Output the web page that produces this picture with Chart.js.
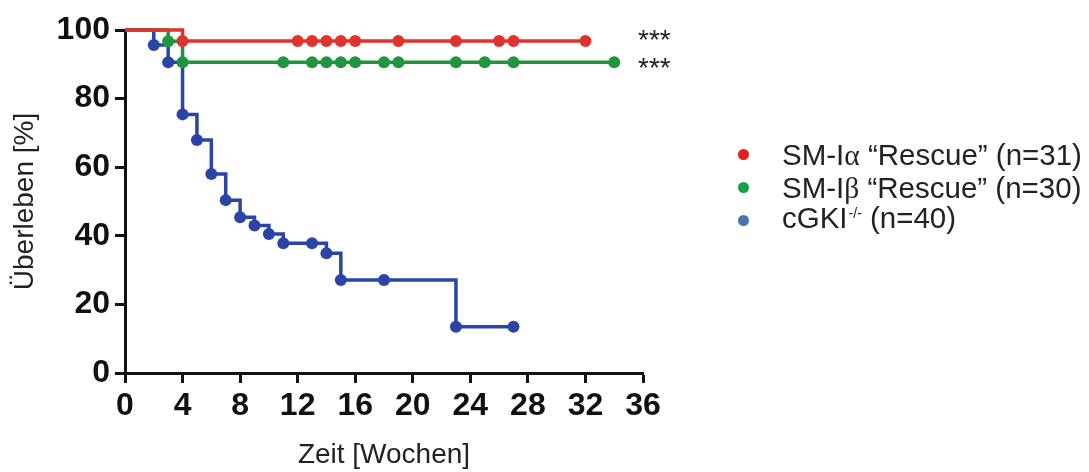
<!DOCTYPE html>
<html><head><meta charset="utf-8">
<script src="https://cdn.jsdelivr.net/npm/chart.js@4"></script>
<style>
html,body{margin:0;padding:0;background:#fff;}
#wrap{position:relative;width:1089px;height:472px;overflow:hidden;}
#c{position:absolute;left:0;top:0;}
#legend{position:absolute;left:736px;top:138px;font-family:"Liberation Sans",Arial,sans-serif;font-size:29.5px;color:#222;}
.row{height:33px;line-height:33px;display:flex;align-items:center;white-space:nowrap;}
.dot{width:11px;height:11px;border-radius:50%;margin-left:2px;margin-right:33px;flex:none;}
.gr{font-family:"Liberation Serif","DejaVu Serif",serif;}
.sup{font-size:14px;position:relative;top:-10px;margin-left:1px;margin-right:0px;}
</style></head>
<body>
<div id="wrap"><canvas id="c" width="1089" height="472"></canvas><div id="legend"></div></div>
<script>
// ---- data ----
const seriesNames = ['SM-Iα “Rescue” (n=31)', 'SM-Iβ “Rescue” (n=30)', 'cGKI-/- (n=40)'];
const redWeeks = [0, 4, 12, 13, 14, 15, 16, 19, 23, 26, 27, 32];
const redSurvival = [100, 96.8, 96.8, 96.8, 96.8, 96.8, 96.8, 96.8, 96.8, 96.8, 96.8, 96.8];
const greenWeeks = [0, 3, 4, 11, 13, 14, 15, 16, 18, 19, 23, 25, 27, 34];
const greenSurvival = [100, 96.7, 90.6, 90.6, 90.6, 90.6, 90.6, 90.6, 90.6, 90.6, 90.6, 90.6, 90.6, 90.6];
const blueWeeks = [0, 2, 3, 4, 5, 6, 7, 8, 9, 10, 11, 13, 14, 15, 18, 23, 27];
const blueSurvival = [100, 95.6, 90.6, 75.4, 67.9, 58.0, 50.4, 45.4, 43.0, 40.5, 37.8, 37.8, 34.9, 27.1, 27.1, 13.5, 13.5];
const xTickValues = [0, 4, 8, 12, 16, 20, 24, 28, 32, 36];
const yTickValues = [0, 20, 40, 60, 80, 100];
const significance = ['***', '***'];

const lineColors = ['#e2322e', '#1f963e', '#2a45a6'];
const legendColors = ['#e01f1f', '#16a046', '#4a72a8'];

function pts(xs, ys){ return xs.map((x,i)=>({x:x, y:ys[i]})); }
function radii(n){ return Array.from({length:n}, (_,i)=> i===0 ? 0 : 6); }

const sets = [[redWeeks, redSurvival], [greenWeeks, greenSurvival], [blueWeeks, blueSurvival]];
const datasets = sets.map((s,i)=>({
  label: seriesNames[i],
  data: pts(s[0], s[1]),
  stepped: true,
  borderColor: lineColors[i],
  backgroundColor: lineColors[i],
  pointBackgroundColor: lineColors[i],
  pointBorderWidth: 0,
  pointRadius: radii(s[0].length),
  borderWidth: 3.5,
  fill: false,
  clip: false
}));

// legend (HTML, built from the series names)
const leg = document.getElementById('legend');
seriesNames.forEach((n,i)=>{
  let html = n.replace(/([αβ])/g, '<span class="gr">$1</span>').replace('-/-', '<span class="sup">-/-</span>');
  const row = document.createElement('div');
  row.className = 'row';
  row.innerHTML = '<span class="dot" style="background:'+legendColors[i]+'"></span><span>'+html+'</span>';
  leg.appendChild(row);
});

const starPlugin = {
  id: 'stars',
  afterDatasetsDraw(chart){
    const ctx = chart.ctx, xs = chart.scales.x, ys = chart.scales.y;
    const levels = [redSurvival[redSurvival.length-1], greenSurvival[greenSurvival.length-1]];
    ctx.save();
    ctx.font = '28px "Liberation Sans", Arial, sans-serif';
    ctx.fillStyle = '#222';
    ctx.textAlign = 'left';
    ctx.textBaseline = 'alphabetic';
    levels.forEach((lv,i)=>{
      ctx.fillText(significance[i], xs.getPixelForValue(36) - 5, ys.getPixelForValue(lv) + (i===0 ? 8 : 15));
    });
    ctx.restore();
  }
};

const tickFont = {family: '"Liberation Sans", Arial, sans-serif', size: 32, weight: 'bold'};
const titleFont = {family: '"Liberation Sans", Arial, sans-serif', size: 28, weight: 'normal'};

new Chart(document.getElementById('c'), {
  type: 'line',
  data: { datasets: datasets },
  plugins: [starPlugin],
  options: {
    responsive: false,
    animation: false,
    events: [],
    layout: { padding: { left: 0, right: 446, top: 30, bottom: 0 } },
    plugins: { legend: { display: false }, tooltip: { enabled: false } },
    scales: {
      x: {
        type: 'linear', min: 0, max: 36,
        afterBuildTicks(scale){ scale.ticks = xTickValues.map(v=>({value:v})); },
        afterFit(scale){ scale.height = 99; },
        ticks: { color: '#111', font: tickFont, padding: 4, maxRotation: 0, autoSkip: false },
        grid: { drawOnChartArea: false, drawTicks: true, tickLength: 10, tickWidth: 3, tickColor: '#111', color: '#111' },
        border: { display: true, width: 3, color: '#111' },
        title: { display: true, text: 'Zeit [Wochen]', color: '#222', font: titleFont, padding: { top: 0, bottom: 0 } }
      },
      y: {
        type: 'linear', min: 0, max: 100,
        afterBuildTicks(scale){ scale.ticks = yTickValues.map(v=>({value:v})); },
        afterFit(scale){ scale.width = 125; },
        ticks: { color: '#111', font: tickFont, padding: 5 },
        grid: { drawOnChartArea: false, drawTicks: true, tickLength: 10, tickWidth: 3, tickColor: '#111', color: '#111' },
        border: { display: true, width: 3, color: '#111' },
        title: { display: true, text: 'Überleben [%]', color: '#222', font: titleFont, padding: { top: 8, bottom: 0 } }
      }
    }
  }
});
</script>
</body></html>
